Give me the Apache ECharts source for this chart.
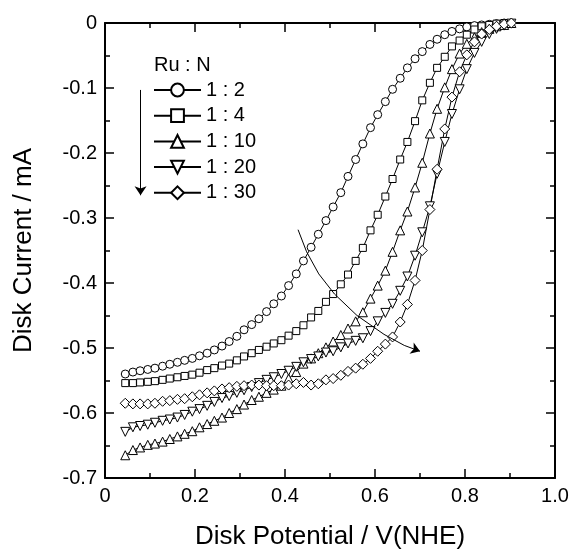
<!DOCTYPE html>
<html>
<head>
<meta charset="utf-8">
<script src="https://cdn.jsdelivr.net/npm/echarts@6/dist/echarts.min.js"></script>
<style>
  html, body { margin: 0; padding: 0; background: #fff; }
  #main { width: 570px; height: 551px; }
</style>
</head>
<body>
<div id="main"></div>
<script>
// disk potential (V vs NHE), one value per measured point
const potential = [0.045, 0.062, 0.078, 0.095, 0.111, 0.128, 0.144, 0.161, 0.177, 0.194,
  0.210, 0.227, 0.243, 0.260, 0.276, 0.293, 0.309, 0.326, 0.342, 0.359,
  0.375, 0.392, 0.408, 0.425, 0.441, 0.458, 0.474, 0.491, 0.507, 0.524,
  0.540, 0.557, 0.573, 0.590, 0.606, 0.623, 0.639, 0.656, 0.672, 0.689,
  0.705, 0.722, 0.738, 0.755, 0.771, 0.788, 0.804, 0.821, 0.837, 0.854,
  0.870, 0.887, 0.903];

// disk current (mA) for each Ru : N ratio
const ru1to2 = [-0.540, -0.537, -0.535, -0.533, -0.531, -0.528, -0.525, -0.522, -0.519, -0.516,
  -0.512, -0.508, -0.503, -0.497, -0.490, -0.482, -0.472, -0.464, -0.455, -0.444,
  -0.432, -0.420, -0.404, -0.386, -0.366, -0.345, -0.325, -0.304, -0.283, -0.261,
  -0.236, -0.210, -0.186, -0.161, -0.141, -0.121, -0.102, -0.085, -0.069, -0.055,
  -0.044, -0.033, -0.025, -0.018, -0.013, -0.009, -0.006, -0.004, -0.003, -0.002,
  -0.001, 0.000];
const ru1to4 = [-0.554, -0.554, -0.553, -0.552, -0.551, -0.549, -0.547, -0.545, -0.543, -0.541,
  -0.538, -0.534, -0.531, -0.527, -0.524, -0.519, -0.513, -0.508, -0.503, -0.498,
  -0.493, -0.488, -0.481, -0.474, -0.465, -0.453, -0.443, -0.429, -0.417, -0.402,
  -0.387, -0.366, -0.346, -0.319, -0.295, -0.267, -0.240, -0.210, -0.183, -0.151,
  -0.119, -0.092, -0.069, -0.052, -0.036, -0.027, -0.018, -0.010, -0.005, -0.003,
  -0.001, 0.000];
const ru1to10 = [-0.665, -0.657, -0.653, -0.649, -0.647, -0.644, -0.640, -0.636, -0.632, -0.628,
  -0.622, -0.617, -0.612, -0.607, -0.600, -0.594, -0.587, -0.580, -0.575, -0.569,
  -0.564, -0.558, -0.547, -0.537, -0.524, -0.516, -0.508, -0.499, -0.490, -0.480,
  -0.470, -0.459, -0.445, -0.424, -0.404, -0.381, -0.352, -0.319, -0.290, -0.253,
  -0.215, -0.170, -0.132, -0.099, -0.071, -0.047, -0.032, -0.022, -0.014, -0.009,
  -0.005, -0.003, 0.000];
const ru1to20 = [-0.629, -0.622, -0.620, -0.618, -0.615, -0.612, -0.610, -0.607, -0.603, -0.598,
  -0.594, -0.589, -0.583, -0.577, -0.574, -0.569, -0.565, -0.560, -0.554, -0.549,
  -0.545, -0.540, -0.535, -0.529, -0.522, -0.517, -0.513, -0.507, -0.505, -0.499,
  -0.493, -0.489, -0.485, -0.474, -0.459, -0.446, -0.432, -0.412, -0.390, -0.358,
  -0.322, -0.282, -0.232, -0.183, -0.140, -0.102, -0.071, -0.046, -0.029, -0.017,
  -0.009, -0.004, -0.001];
const ru1to30 = [-0.585, -0.586, -0.586, -0.586, -0.585, -0.582, -0.581, -0.579, -0.578, -0.575,
  -0.572, -0.569, -0.566, -0.563, -0.561, -0.559, -0.558, -0.557, -0.557, -0.558,
  -0.558, -0.558, -0.557, -0.555, -0.553, -0.557, -0.555, -0.549, -0.547, -0.542,
  -0.536, -0.531, -0.525, -0.516, -0.505, -0.494, -0.483, -0.460, -0.433, -0.396,
  -0.350, -0.287, -0.225, -0.163, -0.114, -0.075, -0.049, -0.029, -0.017, -0.010,
  -0.005, -0.002, 0.000];

const seriesNames = ['1 : 2', '1 : 4', '1 : 10', '1 : 20', '1 : 30'];
const xTicks = { min: 0, max: 1.0, interval: 0.2 };
const yTicks = { min: -0.7, max: 0, interval: 0.1 };

// annotation arrows (data coordinates)
const trendCurve = [[0.429, -0.318], [0.448, -0.352], [0.475, -0.386], [0.51, -0.417], [0.56, -0.450], [0.62, -0.479], [0.665, -0.496]];
const trendHead = [[0.665, -0.496], [0.70, -0.505]];
const legendArrow = [[0.079, -0.103], [0.079, -0.265]];

function pairs(ys) {
  return ys.map((y, i) => [potential[i], y]);
}

const font = 'Liberation Sans';

function mkSeries(name, ys, symbol, size) {
  return {
    name: name,
    type: 'line',
    data: pairs(ys),
    symbol: symbol,
    symbolSize: size,
    showSymbol: true,
    color: '#000',
    lineStyle: { color: '#000', width: 1 },
    itemStyle: { color: '#fff', borderColor: '#000', borderWidth: 1 },
    emphasis: { disabled: true },
    animation: false
  };
}

function xAxisCfg(pos, showLabel) {
  return {
    type: 'value',
    position: pos,
    min: xTicks.min,
    max: xTicks.max,
    interval: xTicks.interval,
    name: showLabel ? 'Disk Potential / V(NHE)' : '',
    nameLocation: 'middle',
    nameGap: 46,
    nameTextStyle: { fontFamily: font, fontSize: 26, color: '#000' },
    axisLine: { onZero: false, lineStyle: { color: '#000', width: 2 } },
    axisTick: { inside: true, length: 9, lineStyle: { color: '#000', width: 1.5 } },
    minorTick: { show: true, splitNumber: 2, length: 5, lineStyle: { color: '#000', width: 1.5 } },
    axisLabel: {
      show: showLabel,
      fontFamily: font,
      fontSize: 20,
      color: '#000',
      margin: 8,
      formatter: v => (v === 0 ? '0' : v.toFixed(1))
    },
    splitLine: { show: false }
  };
}

function yAxisCfg(pos, showLabel) {
  return {
    type: 'value',
    position: pos,
    min: yTicks.min,
    max: yTicks.max,
    interval: yTicks.interval,
    name: showLabel ? 'Disk Current / mA' : '',
    nameLocation: 'middle',
    nameGap: 68,
    nameTextStyle: { fontFamily: font, fontSize: 26, color: '#000' },
    axisLine: { onZero: false, lineStyle: { color: '#000', width: 2 } },
    axisTick: { inside: true, length: 9, lineStyle: { color: '#000', width: 1.5 } },
    minorTick: { show: true, splitNumber: 2, length: 5, lineStyle: { color: '#000', width: 1.5 } },
    axisLabel: {
      show: showLabel,
      fontFamily: font,
      fontSize: 20,
      color: '#000',
      margin: 8,
      formatter: v => (Math.abs(v) < 1e-9 ? '0' : v.toFixed(1))
    },
    splitLine: { show: false }
  };
}

const chart = echarts.init(document.getElementById('main'));

const option = {
  backgroundColor: '#fff',
  animation: false,
  title: {
    text: 'Ru : N',
    left: 154,
    top: 55,
    padding: 0,
    textStyle: { fontFamily: font, fontSize: 20, fontWeight: 'normal', color: '#000' }
  },
  legend: {
    data: seriesNames,
    orient: 'vertical',
    left: 153,
    top: 80,
    padding: 0,
    itemWidth: 47,
    itemHeight: 16,
    itemGap: 5.7,
    selectedMode: false,
    textStyle: { fontFamily: font, fontSize: 20, color: '#000', lineHeight: 20 }
  },
  grid: { left: 105, right: 15, top: 23, bottom: 73, containLabel: false, outerBoundsMode: 'none' },
  xAxis: [xAxisCfg('bottom', true), xAxisCfg('top', false)],
  yAxis: [yAxisCfg('left', true), yAxisCfg('right', false)],
  series: [
    mkSeries(seriesNames[0], ru1to2, 'circle', 8),
    mkSeries(seriesNames[1], ru1to4, 'rect', 7),
    mkSeries(seriesNames[2], ru1to10, 'triangle', 9),
    mkSeries(seriesNames[3], ru1to20, 'path://M0,0L10,0L5,9Z', 9),
    mkSeries(seriesNames[4], ru1to30, 'diamond', 10),
    {
      // curved body of the trend arrow
      type: 'lines',
      coordinateSystem: 'cartesian2d',
      polyline: true,
      silent: true,
      symbol: 'none',
      lineStyle: { color: '#000', width: 1, opacity: 1 },
      data: [{ coords: trendCurve }],
      animation: false,
      z: 5
    },
    {
      // straight pieces that carry the arrow heads
      type: 'lines',
      coordinateSystem: 'cartesian2d',
      silent: true,
      symbol: ['none', 'arrow'],
      symbolSize: 9,
      lineStyle: { color: '#000', width: 1, opacity: 1, curveness: 0 },
      itemStyle: { color: '#000' },
      data: [{ coords: trendHead }, { coords: legendArrow }],
      animation: false,
      z: 5
    }
  ]
};

chart.setOption(option);
</script>
</body>
</html>
